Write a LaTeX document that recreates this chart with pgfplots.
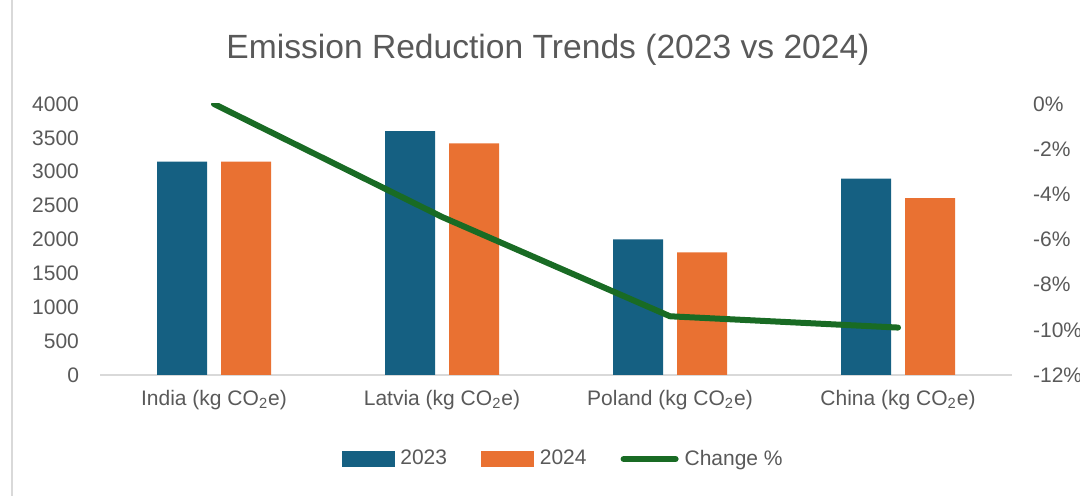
\documentclass[border=0pt]{standalone}
\usepackage{pgfplots}
\pgfplotsset{compat=1.18}
\usepackage{fontspec}
\setmainfont{Liberation Sans}
\definecolor{c23}{HTML}{156082}
\definecolor{c24}{HTML}{E97132}
\definecolor{cchg}{HTML}{196B24}
\definecolor{txt}{HTML}{595959}
\definecolor{axgray}{HTML}{D9D9D9}
\begin{document}
\begin{tikzpicture}
\path[use as bounding box] (0,0) rectangle (540pt,248pt);
\draw[axgray, line width=0.8pt] (6pt,0) -- (6pt,248pt);
\node[txt, font=\fontsize{16.8}{20}\selectfont] at (274pt,223pt) {Emission Reduction Trends (2023 vs 2024)};
\pgfplotsset{
  base/.style={
    at={(50pt,60.5pt)}, anchor=south west,
    scale only axis, width=456pt, height=135.5pt,
    xmin=-0.5, xmax=3.5,
    tick style={draw=none},
    ticklabel style={font=\fontsize{10.5}{12}\selectfont, text=txt},
    /pgf/number format/assume math mode=true,
  }
}
\begin{axis}[base,
  ymin=0, ymax=4000,
  ytick={0,500,...,4000},
  axis x line*=bottom, axis y line*=left,
  x axis line style={axgray, line width=0.8pt, -},
  y axis line style={draw=none},
  xtick={0,1,2,3},
  xticklabels={India (kg CO\textsubscript{2}e), Latvia (kg CO\textsubscript{2}e), Poland (kg CO\textsubscript{2}e), China (kg CO\textsubscript{2}e)},
  xticklabel style={yshift=-4pt},
  yticklabel style={/pgf/number format/1000 sep={}, anchor=east, xshift=-7pt},
]
\addplot[ybar, bar width=25pt, bar shift=-16pt, fill=c23, draw=none] coordinates {(0,3150) (1,3600) (2,2000) (3,2900)};
\addplot[ybar, bar width=25pt, bar shift=16pt, fill=c24, draw=none] coordinates {(0,3150) (1,3420) (2,1810) (3,2610)};
\end{axis}
\begin{axis}[base,
  ymin=-12, ymax=0,
  ytick={-12,-10,...,0},
  axis x line=none, axis y line*=right,
  y axis line style={draw=none},
  yticklabel={\pgfmathprintnumber{\tick}\%},
  yticklabel style={anchor=west, xshift=7pt},
  legend style={at={(0.51,-0.31)}, anchor=center, draw=none, fill=none,
    legend columns=3, font=\fontsize{10.5}{12}\selectfont, text=txt,
    /tikz/every even column/.append style={column sep=14pt},
    nodes={inner xsep=3pt}},
  legend cell align=left,
]
\addlegendimage{legend image code/.code={\fill[c23] (0pt,-3.75pt) rectangle (26pt,3.75pt);}}
\addlegendentry{2023}
\addlegendimage{legend image code/.code={\fill[c24] (0pt,-3.75pt) rectangle (26pt,3.75pt);}}
\addlegendentry{2024}
\addplot[cchg, line width=3pt, line cap=round, line join=round,
  legend image code/.code={\draw[cchg, line width=3pt, line cap=round] (1pt,0pt) -- (27pt,0pt);}]
  coordinates {(0,0) (1,-5) (2,-9.4) (3,-9.9)};
\addlegendentry{Change \%}
\end{axis}
\end{tikzpicture}
\end{document}
